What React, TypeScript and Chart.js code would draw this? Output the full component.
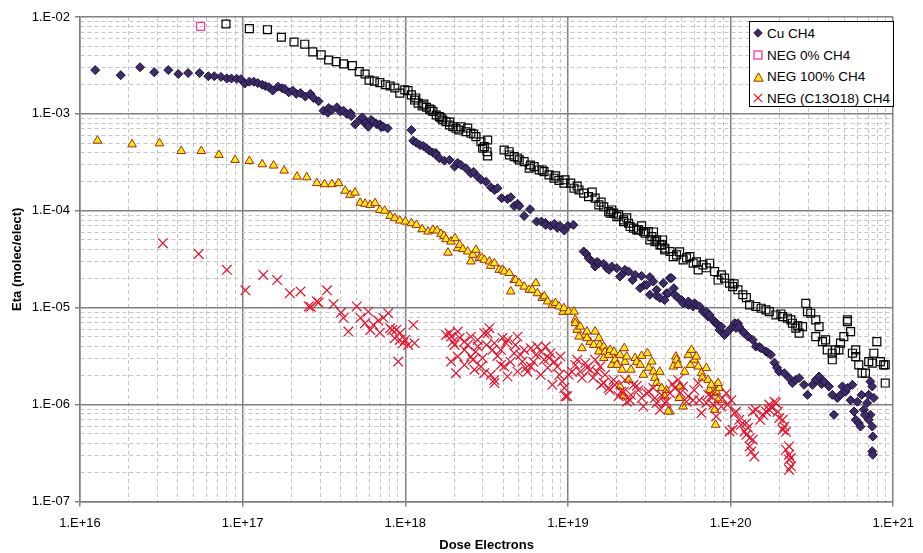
import React, { useEffect, useRef } from 'react';
import { Chart, registerables } from 'chart.js';

Chart.register(...registerables);

const FONT = "'Liberation Sans', Arial, sans-serif";

const xTickLabels = ['1.E+16', '1.E+17', '1.E+18', '1.E+19', '1.E+20', '1.E+21'];
const yTickLabels = ['1.E-07', '1.E-06', '1.E-05', '1.E-04', '1.E-03', '1.E-02'];
const xExpRange = [16, 21];
const yExpRange = [-7, -2];
const seriesNames = ['Cu CH4', 'NEG 0% CH4', 'NEG 100% CH4', 'NEG (C13O18) CH4'];
const xTitle = 'Dose Electrons';
const yTitle = 'Eta (molec/elect)';

// [dose, eta]
const cuCH4: [number, number][] = [
  [1.24e16, 2.83e-3], [1.78e16, 2.51e-3], [2.34e16, 3.03e-3], [2.86e16, 2.69e-3], [3.49e16, 2.83e-3], [4.02e16, 2.58e-3],
  [4.62e16, 2.64e-3], [5.44e16, 2.64e-3], [6.15e16, 2.45e-3], [6.69e16, 2.45e-3], [7.36e16, 2.41e-3], [8.0e16, 2.32e-3],
  [8.53e16, 2.32e-3], [9.2e16, 2.3e-3], [9.75e16, 2.28e-3],
  [1.03e17, 2.06e-3], [1.1e17, 2.15e-3], [1.17e17, 2.15e-3], [1.24e17, 2.08e-3], [1.32e17, 2.0e-3], [1.38e17, 1.94e-3],
  [1.45e17, 1.89e-3], [1.53e17, 1.74e-3], [1.65e17, 1.91e-3], [1.75e17, 1.84e-3], [1.82e17, 1.8e-3], [1.92e17, 1.67e-3],
  [2.03e17, 1.74e-3], [2.14e17, 1.61e-3], [2.27e17, 1.64e-3], [2.43e17, 1.51e-3], [2.61e17, 1.61e-3], [2.73e17, 1.46e-3],
  [2.93e17, 1.35e-3],
  [3.14e17, 1.08e-3], [3.34e17, 1.03e-3], [3.38e17, 1.15e-3], [3.54e17, 1.1e-3], [3.8e17, 1.17e-3], [3.99e17, 1.06e-3],
  [4.17e17, 1.08e-3], [4.37e17, 1.0e-3], [4.6e17, 1.02e-3], [4.65e17, 9.5e-4], [4.92e17, 7.81e-4], [5.28e17, 8.79e-4],
  [5.45e17, 9.2e-4], [5.66e17, 8.0e-4], [5.76e17, 8.25e-4], [5.92e17, 7.38e-4], [6.16e17, 8.65e-4], [6.36e17, 8.3e-4],
  [6.66e17, 7.87e-4], [6.98e17, 7.81e-4], [7.1e17, 7.33e-4], [7.33e17, 7.38e-4], [7.78e17, 7.1e-4],
  [1.09e18, 6.82e-4], [1.12e18, 5.29e-4], [1.17e18, 5.04e-4], [1.23e18, 4.77e-4], [1.29e18, 4.66e-4], [1.35e18, 4.42e-4],
  [1.41e18, 4.17e-4], [1.48e18, 3.98e-4], [1.54e18, 3.95e-4], [1.55e18, 3.77e-4], [1.62e18, 3.49e-4], [1.74e18, 3.29e-4],
  [1.87e18, 3.35e-4], [2.01e18, 2.86e-4], [2.1e18, 3.12e-4], [2.2e18, 2.97e-4], [2.36e18, 2.75e-4], [2.53e18, 2.44e-4],
  [2.63e18, 2.52e-4], [2.79e18, 2.25e-4], [2.92e18, 2.09e-4], [3.13e18, 2.0e-4], [3.36e18, 1.75e-4], [3.54e18, 1.64e-4],
  [3.69e18, 1.71e-4], [3.91e18, 1.35e-4], [4.25e18, 1.32e-4], [4.45e18, 1.38e-4], [4.67e18, 1.12e-4], [4.9e18, 1.18e-4],
  [5.02e18, 1.12e-4], [5.38e18, 8.86e-5], [5.85e18, 1.04e-4], [6.42e18, 7.74e-5], [6.87e18, 7.74e-5], [7.26e18, 7.5e-5],
  [7.3e18, 7.15e-5], [7.82e18, 6.99e-5], [8.27e18, 7.33e-5], [8.6e18, 6.67e-5], [8.93e18, 6.99e-5], [9.5e18, 6.25e-5],
  [1.0e19, 6.99e-5], [1.08e19, 7.15e-5],
  [1.25e19, 3.8e-5], [1.3e19, 3.59e-5], [1.34e19, 3.24e-5], [1.41e19, 3.0e-5], [1.47e19, 2.66e-5], [1.51e19, 2.97e-5],
  [1.55e19, 2.88e-5], [1.66e19, 2.83e-5], [1.74e19, 2.56e-5], [1.79e19, 2.46e-5], [1.86e19, 2.66e-5], [2.0e19, 2.56e-5],
  [2.09e19, 2.1e-5], [2.2e19, 2.28e-5], [2.24e19, 2.46e-5], [2.36e19, 2.36e-5], [2.5e19, 1.93e-5], [2.59e19, 2.18e-5],
  [2.78e19, 1.59e-5], [2.84e19, 2.13e-5], [2.96e19, 1.72e-5], [3.05e19, 1.72e-5], [3.19e19, 2.07e-5], [3.19e19, 1.36e-5],
  [3.35e19, 1.86e-5], [3.51e19, 1.53e-5], [3.51e19, 1.33e-5], [3.68e19, 1.26e-5], [3.86e19, 1.79e-5], [3.93e19, 1.2e-5],
  [4.04e19, 1.41e-5], [4.14e19, 1.41e-5], [4.24e19, 2.02e-5], [4.33e19, 2.02e-5], [4.48e19, 1.59e-5], [4.54e19, 1.36e-5],
  [4.76e19, 1.26e-5], [4.99e19, 1.2e-5], [5.11e19, 1.11e-5], [5.5e19, 1.07e-5], [5.5e19, 1.16e-5], [5.67e19, 1.1e-5],
  [5.89e19, 1.03e-5], [6.0e19, 1.11e-5], [6.17e19, 1.07e-5], [6.45e19, 1.03e-5], [6.76e19, 9.11e-6], [7.1e19, 9.1e-6],
  [7.27e19, 8.09e-6], [7.42e19, 8.42e-6], [7.8e19, 7.49e-6], [7.95e19, 7.13e-6], [8.17e19, 6.92e-6], [8.38e19, 6.65e-6],
  [8.55e19, 5.9e-6], [8.78e19, 6.38e-6], [9.18e19, 5.24e-6], [9.62e19, 5.67e-6],
  [1.03e20, 6.38e-6], [1.06e20, 6.92e-6], [1.08e20, 6.19e-6], [1.11e20, 6.92e-6], [1.13e20, 6.38e-6], [1.19e20, 5.67e-6],
  [1.21e20, 5.49e-6], [1.28e20, 5.03e-6], [1.37e20, 4.65e-6], [1.43e20, 3.97e-6], [1.5e20, 3.94e-6], [1.54e20, 3.82e-6],
  [1.65e20, 3.53e-6], [1.7e20, 3.42e-6], [1.77e20, 3.26e-6], [1.86e20, 2.71e-6], [1.93e20, 2.4e-6], [1.99e20, 2.19e-6],
  [2.14e20, 2.11e-6], [2.29e20, 1.88e-6], [2.4e20, 1.67e-6], [2.52e20, 1.8e-6], [2.64e20, 1.88e-6], [2.83e20, 1.6e-6],
  [2.97e20, 1.26e-6], [3.19e20, 1.6e-6], [3.34e20, 1.8e-6], [3.5e20, 1.95e-6], [3.63e20, 1.63e-6], [3.75e20, 1.73e-6],
  [4.02e20, 1.54e-6], [4.22e20, 1.26e-6], [4.32e20, 7.85e-7], [4.53e20, 1.17e-6], [4.74e20, 1.26e-6], [4.87e20, 1.54e-6],
  [5.09e20, 1.36e-6], [5.23e20, 1.48e-6], [5.61e20, 1.6e-6], [5.47e20, 1.11e-6], [5.74e20, 8.49e-7], [5.88e20, 6.97e-7],
  [6.02e20, 1.07e-6], [6.14e20, 6.44e-7], [6.29e20, 5.94e-7], [6.39e20, 1.26e-6], [6.59e20, 8.84e-7], [6.91e20, 1.04e-6],
  [7.07e20, 1.26e-6], [7.24e20, 1.73e-6], [7.43e20, 1.54e-6], [7.6e20, 1.17e-6], [7.24e20, 7.85e-7], [7.43e20, 5.94e-7],
  [7.49e20, 4.69e-7], [7.43e20, 3.3e-7], [7.49e20, 3.04e-7], [7.07e20, 6.97e-7], [6.7e20, 7.8e-7],
];

const neg0CH4: [number, number][] = [
  [5.52e16, 8.0e-3], [7.9e16, 8.47e-3], [1.1e17, 7.59e-3], [1.42e17, 7.39e-3], [1.73e17, 6.18e-3], [2.07e17, 5.52e-3],
  [2.41e17, 5.24e-3], [2.7e17, 4.36e-3], [3.04e17, 4.06e-3], [3.38e17, 3.6e-3], [3.76e17, 3.46e-3], [4.17e17, 3.28e-3],
  [4.73e17, 3.15e-3], [5.21e17, 2.73e-3], [5.66e17, 2.58e-3], [5.99e17, 2.23e-3], [6.45e17, 2.18e-3], [6.98e17, 2.1e-3],
  [7.56e17, 2.0e-3], [8.07e17, 1.94e-3], [8.62e17, 1.85e-3], [9.25e17, 1.64e-3], [9.93e17, 1.77e-3], [1.04e18, 1.74e-3],
  [1.09e18, 1.57e-3], [1.14e18, 1.39e-3], [1.16e18, 1.46e-3], [1.2e18, 1.29e-3], [1.27e18, 1.21e-3], [1.3e18, 1.26e-3],
  [1.35e18, 1.17e-3], [1.41e18, 1.12e-3], [1.44e18, 1.1e-3], [1.48e18, 1.06e-3], [1.55e18, 9.74e-4], [1.62e18, 9.36e-4],
  [1.66e18, 9.1e-4], [1.7e18, 8.65e-4], [1.78e18, 8.31e-4], [1.87e18, 7.68e-4], [1.88e18, 8.25e-4], [1.96e18, 7.38e-4],
  [2.05e18, 7.1e-4], [2.13e18, 6.82e-4], [2.2e18, 7.38e-4], [2.36e18, 6.55e-4], [2.42e18, 7.15e-4], [2.53e18, 6.31e-4],
  [2.63e18, 6.2e-4], [2.72e18, 5.82e-4], [2.92e18, 5.16e-4], [2.99e18, 4.42e-4], [3.06e18, 4.59e-4], [3.18e18, 4.07e-4],
  [3.21e18, 5.38e-4], [3.21e18, 3.68e-4], [4.05e18, 4.24e-4], [4.35e18, 4.07e-4], [4.37e18, 3.77e-4], [4.67e18, 3.62e-4],
  [4.9e18, 3.51e-4], [5.02e18, 3.35e-4], [5.38e18, 3.22e-4], [5.78e18, 2.75e-4], [5.88e18, 2.97e-4], [6.2e18, 2.86e-4],
  [6.65e18, 2.64e-4], [6.95e18, 2.64e-4], [7.13e18, 2.54e-4], [7.65e18, 2.35e-4], [8.21e18, 2.17e-4], [8.37e18, 2.29e-4],
  [8.81e18, 2.06e-4], [9.45e18, 1.93e-4], [9.6e18, 2.09e-4], [1.04e19, 1.93e-4], [1.09e19, 1.71e-4], [1.14e19, 1.8e-4],
  [1.17e19, 1.64e-4], [1.25e19, 1.52e-4], [1.34e19, 1.4e-4], [1.41e19, 1.56e-4], [1.47e19, 1.35e-4], [1.55e19, 1.15e-4],
  [1.6e19, 1.23e-4], [1.66e19, 1.1e-4], [1.78e19, 9.8e-5], [1.82e19, 9.45e-5], [1.86e19, 1.02e-4], [1.91e19, 9.45e-5],
  [2.0e19, 8.7e-5], [2.05e19, 9.07e-5], [2.2e19, 8.05e-5], [2.2e19, 7.74e-5], [2.3e19, 8.45e-5], [2.36e19, 7.45e-5],
  [2.41e19, 6.88e-5], [2.53e19, 6.62e-5], [2.65e19, 6.36e-5], [2.72e19, 6.36e-5], [2.84e19, 6.99e-5], [2.91e19, 6.11e-5],
  [2.98e19, 5.88e-5], [3.12e19, 6.11e-5], [3.19e19, 5.0e-5], [3.28e19, 5.42e-5], [3.36e19, 6.05e-5], [3.43e19, 4.81e-5],
  [3.51e19, 5.0e-5], [3.68e19, 4.45e-5], [3.77e19, 4.45e-5], [3.82e19, 5.0e-5], [3.94e19, 3.95e-5], [3.94e19, 4.11e-5],
  [4.24e19, 3.8e-5], [4.44e19, 3.37e-5], [4.65e19, 3.51e-5], [4.86e19, 3.77e-5], [5.11e19, 3.12e-5], [5.36e19, 3.27e-5],
  [5.62e19, 3.37e-5], [5.89e19, 2.88e-5], [6.17e19, 2.97e-5], [6.32e19, 2.46e-5], [6.76e19, 2.77e-5], [7.1e19, 2.58e-5],
  [7.44e19, 2.88e-5], [7.98e19, 2.36e-5], [8.38e19, 1.93e-5], [8.78e19, 2.18e-5], [9.18e19, 2.02e-5], [9.85e19, 1.79e-5],
  [1.03e20, 1.65e-5], [1.05e20, 1.76e-5], [1.11e20, 1.53e-5], [1.19e20, 1.36e-5], [1.25e20, 1.27e-5], [1.31e20, 1.07e-5],
  [1.43e20, 1.03e-5], [1.54e20, 9.88e-6], [1.65e20, 9.49e-6], [1.73e20, 9.11e-6], [1.9e20, 8.42e-6], [2.04e20, 8.62e-6],
  [2.09e20, 8.09e-6], [2.24e20, 7.79e-6], [2.35e20, 7.49e-6], [2.4e20, 6.92e-6], [2.52e20, 6.14e-6], [2.59e20, 6.49e-6],
  [2.64e20, 5.46e-6], [2.77e20, 6.38e-6], [2.9e20, 1.11e-5], [2.97e20, 9.11e-6], [3.11e20, 8.77e-6], [3.34e20, 5.03e-6],
  [3.5e20, 6.38e-6], [3.34e20, 7.49e-6], [3.67e20, 4.47e-6], [3.84e20, 4.65e-6], [3.93e20, 3.67e-6], [4.22e20, 3.39e-6],
  [4.22e20, 2.9e-6], [4.42e20, 3.67e-6], [4.64e20, 3.67e-6], [4.74e20, 4.31e-6], [4.97e20, 5.03e-6], [5.23e20, 7.19e-6],
  [5.23e20, 7.49e-6], [5.47e20, 5.67e-6], [5.61e20, 3.39e-6], [5.88e20, 3.13e-6], [5.88e20, 3.67e-6], [6.14e20, 2.57e-6],
  [6.43e20, 2.11e-6], [6.75e20, 2.11e-6], [7.07e20, 2.78e-6], [7.43e20, 2.68e-6], [7.6e20, 3.39e-6], [7.93e20, 4.47e-6],
  [8.34e20, 2.78e-6], [8.73e20, 2.57e-6], [8.93e20, 2.57e-6], [8.93e20, 1.67e-6],
];

const neg100CH4: [number, number][] = [
  [1.28e16, 5.29e-4], [2.09e16, 4.85e-4], [3.08e16, 4.97e-4], [4.19e16, 4.14e-4], [5.57e16, 4.14e-4], [7.15e16, 3.77e-4],
  [8.99e16, 3.35e-4], [1.1e17, 3.27e-4], [1.32e17, 3.02e-4], [1.55e17, 2.93e-4], [1.8e17, 2.6e-4], [2.16e17, 2.25e-4],
  [2.48e17, 2.22e-4], [2.86e17, 1.93e-4], [3.19e17, 1.88e-4], [3.54e17, 1.88e-4], [3.89e17, 1.93e-4], [4.27e17, 1.61e-4],
  [4.58e17, 1.46e-4], [4.91e17, 1.54e-4], [5.28e17, 1.21e-4], [5.66e17, 1.18e-4], [6.08e17, 1.15e-4], [6.52e17, 1.2e-4],
  [6.98e17, 1.02e-4], [7.47e17, 1.0e-4], [8.07e17, 8.86e-5], [8.62e17, 8.39e-5], [9.25e17, 7.93e-5], [1.0e18, 7.74e-5],
  [1.09e18, 7.45e-5], [1.17e18, 7.15e-5], [1.27e18, 6.46e-5], [1.38e18, 6.11e-5], [1.48e18, 6.36e-5], [1.57e18, 6.25e-5],
  [1.66e18, 5.78e-5], [1.73e18, 5.5e-5], [1.78e18, 5.09e-5], [1.91e18, 4.81e-5], [2.02e18, 5.21e-5], [1.83e18, 3.7e-5],
  [2.1e18, 4.11e-5], [2.16e18, 4.45e-5], [2.26e18, 4.02e-5], [2.42e18, 3.8e-5], [2.53e18, 3.0e-5], [2.6e18, 3.51e-5],
  [2.72e18, 3.95e-5], [2.85e18, 3.24e-5], [2.95e18, 3.27e-5], [3.06e18, 3.12e-5], [3.29e18, 3.0e-5], [3.35e18, 2.7e-5],
  [3.53e18, 2.88e-5], [3.78e18, 2.46e-5], [3.96e18, 2.46e-5], [4.06e18, 2.36e-5], [4.36e18, 2.28e-5], [4.67e18, 1.93e-5],
  [4.76e18, 1.93e-5], [4.45e18, 1.47e-5], [5.02e18, 1.79e-5], [5.38e18, 1.65e-5], [5.78e18, 1.53e-5], [6.03e18, 1.53e-5],
  [6.34e18, 1.79e-5], [6.49e18, 1.41e-5], [6.95e18, 1.26e-5], [7.16e18, 1.31e-5], [7.5e18, 1.16e-5], [8.02e18, 1.07e-5],
  [8.37e18, 1.12e-5], [8.81e18, 1.03e-5], [9.34e18, 9.05e-6], [9.45e18, 9.88e-6], [1.01e19, 9.11e-6], [1.09e19, 9.11e-6],
  [1.11e19, 7.49e-6], [1.11e19, 6.92e-6], [1.14e19, 5.9e-6], [1.19e19, 6.38e-6], [1.27e19, 5.24e-6], [1.31e19, 5.67e-6],
  [1.37e19, 4.44e-6], [1.47e19, 5.67e-6], [1.17e19, 5.03e-6], [1.22e19, 3.82e-6], [1.31e19, 4.85e-6], [1.44e19, 4.13e-6],
  [1.55e19, 4.85e-6], [1.57e19, 4.13e-6], [1.55e19, 3.53e-6], [1.66e19, 3.97e-6], [1.69e19, 3.5e-6], [1.66e19, 3.02e-6],
  [1.78e19, 3.26e-6], [1.82e19, 3.67e-6], [1.86e19, 2.57e-6], [1.92e19, 3.5e-6], [1.95e19, 2.9e-6], [2.0e19, 2.57e-6],
  [2.09e19, 3.26e-6], [2.22e19, 3.82e-6], [2.24e19, 2.76e-6], [2.3e19, 3.13e-6], [2.15e19, 2.29e-6], [2.09e19, 1.54e-6],
  [2.2e19, 1.22e-6], [2.36e19, 1.8e-6], [2.44e19, 2.29e-6], [2.59e19, 3.02e-6], [2.65e19, 2.76e-6], [2.78e19, 2.57e-6],
  [2.84e19, 3.18e-6], [2.91e19, 2.03e-6], [3.08e19, 3.39e-6], [3.14e19, 2.4e-6], [3.28e19, 2.78e-6], [3.35e19, 2.19e-6],
  [3.42e19, 1.89e-6], [3.51e19, 1.67e-6], [3.67e19, 2.18e-6], [3.77e19, 1.48e-6], [3.94e19, 1.22e-6], [4.04e19, 1.41e-6],
  [4.24e19, 8.49e-7], [4.14e19, 8.49e-7], [4.44e19, 2.47e-6], [4.61e19, 3.13e-6], [4.65e19, 2.9e-6], [4.76e19, 2.57e-6],
  [4.88e19, 1.54e-6], [4.84e19, 1.17e-6], [5.11e19, 9.56e-7], [5.22e19, 2.18e-6], [5.5e19, 3.26e-6], [5.67e19, 2.57e-6],
  [5.75e19, 3.67e-6], [6.0e19, 2.9e-6], [6.17e19, 3.13e-6], [6.32e19, 2.47e-6], [6.62e19, 2.11e-6], [6.7e19, 1.89e-6],
  [7.1e19, 2.38e-6], [7.27e19, 1.8e-6], [7.42e19, 1.41e-6], [7.62e19, 1.6e-6], [7.87e19, 1.31e-6], [7.98e19, 8.84e-7],
  [8.09e19, 6.19e-7], [8.17e19, 1.36e-6], [8.38e19, 1.11e-6], [8.55e19, 1.48e-6], [8.38e19, 1.67e-6],
];

const negC13O18CH4: [number, number][] = [
  [3.23e16, 4.63e-5], [5.37e16, 3.59e-5], [8.0e16, 2.46e-5], [1.04e17, 1.51e-5], [1.34e17, 2.18e-5], [1.63e17, 1.93e-5],
  [1.95e17, 1.41e-5], [2.27e17, 1.47e-5], [2.55e17, 1.03e-5], [2.63e17, 1.02e-5], [2.86e17, 1.16e-5], [2.93e17, 1.13e-5],
  [3.3e17, 1.51e-5], [3.62e17, 1.09e-5], [4.03e17, 8.9e-6], [4.17e17, 7.85e-6], [4.47e17, 5.67e-6], [5.03e17, 1.03e-5],
  [5.3e17, 7.85e-6], [5.66e17, 6.92e-6], [5.92e17, 9.11e-6], [6.1e17, 5.9e-6], [6.36e17, 6.65e-6], [6.83e17, 7.36e-6],
  [6.98e17, 5.53e-6], [7.33e17, 7.85e-6], [7.86e17, 8.77e-6], [8.07e17, 6.14e-6], [8.3e17, 5.9e-6], [8.62e17, 4.85e-6],
  [8.8e17, 5.9e-6], [9.05e17, 2.78e-6], [9.25e17, 4.65e-6], [9.3e17, 5.49e-6], [9.7e17, 4.31e-6], [9.97e17, 4.65e-6],
  [1.04e18, 4.13e-6], [1.12e18, 6.65e-6], [1.14e18, 4.31e-6],
  [1.78e18, 5.24e-6], [1.87e18, 5.46e-6], [1.91e18, 5.03e-6], [1.96e18, 4.44e-6], [2.01e18, 4.13e-6], [1.91e18, 2.78e-6],
  [2.05e18, 2.11e-6], [2.1e18, 5.67e-6], [2.1e18, 3.13e-6], [2.16e18, 4.88e-6], [2.31e18, 4.47e-6], [2.31e18, 3.67e-6],
  [2.31e18, 2.57e-6], [2.42e18, 4.13e-6], [2.53e18, 5.03e-6], [2.53e18, 3.13e-6], [2.6e18, 2.9e-6], [2.66e18, 2.29e-6],
  [2.71e18, 3.5e-6], [2.79e18, 4.65e-6], [2.79e18, 3.97e-6], [2.92e18, 2.47e-6], [2.99e18, 3.03e-6], [3.06e18, 5.46e-6],
  [3.06e18, 2.11e-6], [3.16e18, 4.13e-6], [3.21e18, 5.46e-6], [3.29e18, 6.14e-6], [3.36e18, 2.03e-6], [3.44e18, 3.67e-6],
  [3.53e18, 4.31e-6], [3.53e18, 1.67e-6], [3.53e18, 1.8e-6], [3.69e18, 3.18e-6], [3.87e18, 3.67e-6], [3.87e18, 2.57e-6],
  [3.96e18, 4.88e-6], [4.06e18, 2.47e-6], [4.16e18, 4.31e-6], [4.25e18, 4.65e-6], [4.25e18, 1.95e-6], [4.44e18, 2.76e-6],
  [4.67e18, 3.39e-6], [4.76e18, 4.13e-6], [4.9e18, 5.03e-6], [4.9e18, 2.19e-6], [5.11e18, 3.26e-6], [5.25e18, 2.78e-6],
  [5.38e18, 3.67e-6], [5.5e18, 2.38e-6], [5.63e18, 2.18e-6], [5.91e18, 3.82e-6], [5.91e18, 2.47e-6], [6.13e18, 2.76e-6],
  [6.34e18, 3.26e-6], [6.49e18, 3.97e-6], [6.8e18, 2.03e-6], [6.87e18, 3.5e-6], [7.13e18, 2.9e-6], [7.3e18, 3.97e-6],
  [7.5e18, 2.4e-6], [7.65e18, 3.02e-6], [7.82e18, 3.39e-6], [8.02e18, 1.6e-6], [8.25e18, 2.76e-6], [8.6e18, 2.47e-6],
  [8.85e18, 2.03e-6], [9.0e18, 3.13e-6], [9.23e18, 1.73e-6], [9.5e18, 1.49e-6], [9.65e18, 1.22e-6], [9.9e18, 1.22e-6],
  [1.01e19, 2.03e-6], [1.06e19, 2.18e-6], [1.11e19, 2.57e-6], [1.14e19, 2.9e-6], [1.19e19, 2.19e-6], [1.22e19, 1.89e-6],
  [1.28e19, 2.68e-6], [1.31e19, 2.4e-6], [1.37e19, 2.29e-6], [1.43e19, 1.89e-6], [1.47e19, 2.9e-6], [1.51e19, 2.18e-6],
  [1.58e19, 2.47e-6], [1.6e19, 1.6e-6], [1.66e19, 1.67e-6], [1.69e19, 2.03e-6], [1.78e19, 1.48e-6], [1.81e19, 1.41e-6],
  [1.91e19, 1.8e-6], [1.94e19, 1.6e-6], [2.05e19, 1.22e-6], [2.12e19, 1.36e-6], [2.2e19, 1.36e-6], [2.24e19, 1.8e-6],
  [2.3e19, 1.07e-6], [2.41e19, 1.11e-6], [2.44e19, 1.26e-6], [2.53e19, 1.6e-6], [2.65e19, 1.56e-6], [2.71e19, 1.41e-6],
  [2.84e19, 1.17e-6], [2.91e19, 9.56e-7], [3.05e19, 1.31e-6], [3.14e19, 1.36e-6], [3.35e19, 1.48e-6], [3.42e19, 1.17e-6],
  [3.51e19, 1.04e-6], [3.68e19, 8.84e-7], [3.77e19, 1.26e-6], [3.94e19, 1.04e-6], [4.04e19, 1.07e-6], [4.24e19, 1.31e-6],
  [4.4e19, 1.63e-6], [4.54e19, 1.48e-6], [4.76e19, 1.8e-6], [4.92e19, 1.32e-6], [5.11e19, 1.54e-6], [5.36e19, 1.07e-6],
  [5.5e19, 1.22e-6], [5.89e19, 1.11e-6], [5.98e19, 1.41e-6], [6.32e19, 1.67e-6], [6.43e19, 1.11e-6], [6.62e19, 8.17e-7],
  [7.1e19, 1.04e-6], [7.31e19, 1.26e-6], [7.62e19, 1.22e-6], [7.83e19, 9.95e-7], [8.17e19, 7.54e-7], [8.78e19, 9.56e-7],
  [8.9e19, 1.17e-6], [9.42e19, 1.31e-6], [9.56e19, 9.95e-7], [1.01e20, 1.11e-6], [9.85e19, 5.28e-7], [1.03e20, 5.49e-7],
  [1.06e20, 8.17e-7], [1.08e20, 8.42e-7], [1.13e20, 6.97e-7], [1.16e20, 6.19e-7], [1.22e20, 5.28e-7], [1.25e20, 6.44e-7],
  [1.25e20, 4.88e-7], [1.28e20, 5.76e-7], [1.31e20, 4.51e-7], [1.31e20, 3.7e-7], [1.34e20, 3.28e-7], [1.37e20, 4.34e-7],
  [1.37e20, 8.49e-7], [1.4e20, 2.92e-7], [1.43e20, 8.84e-7], [1.52e20, 6.97e-7], [1.58e20, 7.85e-7], [1.65e20, 8.49e-7],
  [1.73e20, 1.0e-6], [1.73e20, 8.84e-7], [1.8e20, 9.27e-7], [1.86e20, 1.07e-6], [1.9e20, 1.04e-6], [1.95e20, 8.42e-7],
  [1.99e20, 7.26e-7], [2.09e20, 6.97e-7], [2.09e20, 5.49e-7], [2.14e20, 5.94e-7], [2.19e20, 5.24e-7], [2.19e20, 3.42e-7],
  [2.29e20, 3.7e-7], [2.29e20, 3.04e-7], [2.29e20, 2.7e-7], [2.35e20, 2.31e-7], [2.35e20, 2.81e-7], [2.29e20, 2.13e-7],
];

function buildLogTicks(minExp: number, maxExp: number) {
  const t: { value: number; major: boolean }[] = [];
  for (let e = minExp; e < maxExp; e++) {
    for (let k = 1; k <= 9; k++) t.push({ value: k * Math.pow(10, e), major: k === 1 });
  }
  t.push({ value: Math.pow(10, maxExp), major: true });
  return t;
}

function majorExp(v: number): number | null {
  const e = Math.round(Math.log10(v));
  return Math.abs(v / Math.pow(10, e) - 1) < 1e-6 ? e : null;
}

const isMajor = (ctx: any) => !!(ctx && ctx.tick && ctx.tick.major);

function axisCommon(minExp: number, maxExp: number, labels: string[], title: string, isX: boolean) {
  return {
    type: 'logarithmic' as const,
    min: Math.pow(10, minExp),
    max: Math.pow(10, maxExp),
    afterBuildTicks: (scale: any) => {
      scale.ticks = buildLogTicks(minExp, maxExp);
    },
    afterFit: (scale: any) => {
      if (isX) scale.height = 51.5;
      else scale.width = 80;
    },
    grid: {
      color: (ctx: any) => (isMajor(ctx) ? '#808080' : '#c4c4c4'),
      lineWidth: (ctx: any) => (isMajor(ctx) ? 1.5 : 1),
      drawTicks: true,
      tickLength: 5,
      tickColor: (ctx: any) => (isMajor(ctx) ? '#808080' : 'rgba(0,0,0,0)'),
      tickWidth: 1.5,
    },
    border: {
      display: true,
      color: '#808080',
      width: 1.5,
      dash: (ctx: any) => (ctx && ctx.tick && !ctx.tick.major ? [4, 3] : []),
    },
    ticks: {
      autoSkip: false,
      maxRotation: 0,
      minRotation: 0,
      padding: isX ? 9 : 5,
      color: '#000',
      font: { family: FONT, size: 13 },
      callback: (value: any) => {
        const e = majorExp(Number(value));
        if (e === null) return '';
        return labels[e - minExp] ?? '';
      },
    },
    title: {
      display: true,
      text: title,
      color: '#000',
      font: { family: FONT, size: 13, weight: 'bold' as const },
      padding: isX ? { top: 0, bottom: 0 } : { top: 10, bottom: 0 },
    },
  };
}

function LegendMarker({ kind }: { kind: number }) {
  if (kind === 0)
    return (
      <svg width="10" height="10" viewBox="0 0 10 10">
        <polygon points="5,0.8 9.2,5 5,9.2 0.8,5" fill="#3d2b6b" stroke="#1b1233" strokeWidth="1" />
      </svg>
    );
  if (kind === 1)
    return (
      <svg width="10" height="10" viewBox="0 0 10 10">
        <rect x="1" y="1" width="8" height="8" fill="#fff" stroke="#ff3399" strokeWidth="1.3" />
      </svg>
    );
  if (kind === 2)
    return (
      <svg width="11" height="10" viewBox="0 0 11 10">
        <polygon points="5.5,0.8 10.2,9.2 0.8,9.2" fill="#ffee00" stroke="#a0261e" strokeWidth="1" />
      </svg>
    );
  return (
    <svg width="10" height="10" viewBox="0 0 10 10">
      <line x1="0.8" y1="0.8" x2="9.2" y2="9.2" stroke="#e8102a" strokeWidth="1.2" />
      <line x1="9.2" y1="0.8" x2="0.8" y2="9.2" stroke="#e8102a" strokeWidth="1.2" />
    </svg>
  );
}

export default function App() {
  const canvasRef = useRef<HTMLCanvasElement | null>(null);

  useEffect(() => {
    if (!canvasRef.current) return;
    const toPts = (arr: [number, number][]) => arr.map(([x, y]) => ({ x, y }));
    const chart = new Chart(canvasRef.current, {
      type: 'scatter',
      data: {
        datasets: [
          {
            label: seriesNames[0],
            data: toPts(cuCH4),
            pointStyle: 'rectRot',
            pointRadius: 4.5,
            pointBackgroundColor: '#3d2b6b',
            pointBorderColor: '#1b1233',
            pointBorderWidth: 1,
            order: 4,
          },
          {
            label: seriesNames[1],
            data: toPts(neg0CH4),
            pointStyle: 'rect',
            pointRadius: 5.6,
            pointBackgroundColor: 'rgba(0,0,0,0)',
            pointBorderColor: (ctx: any) => (ctx.dataIndex === 0 ? '#ff3399' : '#000000'),
            pointBorderWidth: 1.2,
            order: 3,
          },
          {
            label: seriesNames[2],
            data: toPts(neg100CH4),
            pointStyle: 'triangle',
            pointRadius: 5,
            pointBackgroundColor: '#ffee00',
            pointBorderColor: '#a0261e',
            pointBorderWidth: 1,
            order: 2,
          },
          {
            label: seriesNames[3],
            data: toPts(negC13O18CH4),
            pointStyle: 'crossRot',
            pointRadius: 6.8,
            pointBackgroundColor: '#e8102a',
            pointBorderColor: '#e8102a',
            pointBorderWidth: 1.2,
            order: 1,
          },
        ],
      },
      options: {
        responsive: false,
        animation: false,
        layout: { padding: { left: 0, top: 17, right: 24.5, bottom: 0 } },
        plugins: { legend: { display: false }, tooltip: { enabled: false } },
        scales: {
          x: { position: 'bottom', ...axisCommon(xExpRange[0], xExpRange[1], xTickLabels, xTitle, true) } as any,
          y: { position: 'left', ...axisCommon(yExpRange[0], yExpRange[1], yTickLabels, yTitle, false) } as any,
        },
      },
    });
    return () => chart.destroy();
  }, []);

  const rowCenters = [33.3, 55, 76.7, 98.3];

  return (
    <div style={{ position: 'fixed', left: 0, top: 0, width: 923, height: 553, background: '#fff' }}>
      <canvas ref={canvasRef} width={923} height={553} style={{ position: 'absolute', left: 0, top: 0 }} />
      <div
        style={{
          position: 'absolute',
          left: 749,
          top: 21,
          width: 145,
          height: 86,
          boxSizing: 'border-box',
          border: '1px solid #000',
          background: '#fff',
        }}
      />
      {seriesNames.map((name, i) => (
        <div
          key={name}
          style={{
            position: 'absolute',
            left: 752,
            top: rowCenters[i] - 9,
            height: 18,
            display: 'flex',
            alignItems: 'center',
            fontFamily: FONT,
            fontSize: 13.5,
            color: '#000',
            whiteSpace: 'nowrap',
          }}
        >
          <div style={{ width: 12, display: 'flex', justifyContent: 'center', marginRight: 3 }}>
            <LegendMarker kind={i} />
          </div>
          <span>{name}</span>
        </div>
      ))}
    </div>
  );
}
